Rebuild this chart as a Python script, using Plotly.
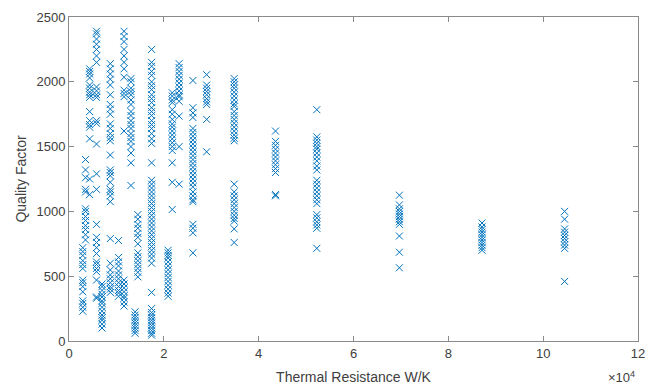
import plotly.graph_objects as go

# Thermal resistance levels (W/K)
resistance_levels = [2903, 3484, 4355, 5807, 6968, 8710, 10452, 11613, 13065, 13936,
                     14517, 17420, 20904, 21775, 23227, 26130, 29033, 34840, 43550,
                     52260, 69680, 87100, 104520]

# Quality factor values observed at each level
q_2903 = [230, 260, 290, 310, 380, 420, 450, 470, 560, 590, 620, 660, 690, 720]
q_3484 = [780, 820, 860, 890, 930, 960, 1000, 1020, 1150, 1170, 1260, 1320, 1400]
q_4355 = [1130, 1250, 1560, 1650, 1670, 1700, 1770, 1880, 1900, 1920, 1950, 1975, 2030, 2060, 2080, 2100]
q_5807 = [2390, 2370, 2330, 2290, 2250, 2200, 2150, 1960, 1930, 1900, 1880, 1700, 1680, 1520,
          1290, 1170, 900, 800, 760, 720, 675, 610, 590, 560, 535, 470, 340, 330]
q_6968 = [100, 130, 160, 180, 200, 230, 260, 290, 310, 340, 360, 390, 420, 440]
q_8710 = [2140, 2100, 2060, 2020, 1975, 1900, 1825, 1790, 1750, 1675, 1640, 1600, 1570, 1545,
          1435, 1320, 1300, 1275, 1225, 1170, 1150, 1120, 1075, 790, 600, 548, 510, 480, 450,
          420, 400, 375]
q_10452 = [775, 645, 610, 580, 540, 510, 480, 450, 420, 390, 370, 345]
q_11613 = [2390, 2350, 2310, 2250, 2200, 2150, 2100, 2035, 1935, 1910, 1885, 1620,
           470, 440, 410, 380, 350, 330, 300, 270]
q_13065 = [2025, 2000, 1950, 1925, 1900, 1860, 1825, 1770, 1740, 1700, 1670, 1640, 1600,
           1570, 1540, 1500, 1450, 1375, 1200]
q_13936 = [225, 200, 180, 160, 140, 120, 100, 80, 60]
q_14517 = [975, 940, 900, 870, 830, 800, 750, 680, 650, 620, 590, 560, 530, 495]
q_17420 = [2250, 2150, 2120, 2080, 2050, 2000, 1970, 1940, 1900, 1870, 1840, 1800, 1770,
           1740, 1700, 1670, 1640, 1600, 1560, 1525, 1375, 1240, 1210, 1180, 1150, 1120,
           1090, 1060, 1030, 1000, 970, 940, 910, 880, 850, 820, 790, 760, 730, 700, 670,
           640, 600, 375, 250, 220, 200, 180, 160, 140, 120, 100, 80, 60, 45]
q_20904 = [700, 680, 660, 640, 610, 580, 550, 520, 490, 460, 430, 400, 370, 345]
q_21775 = [1915, 1890, 1860, 1840, 1785, 1750, 1710, 1675, 1650, 1620, 1590, 1560, 1530,
           1500, 1470, 1375, 1225, 1015]
q_23227 = [2140, 2110, 2080, 2050, 2020, 1990, 1960, 1930, 1900, 1885, 1850, 1735, 1500, 1210]
q_26130 = [2010, 1800, 1760, 1725, 1640, 1610, 1580, 1550, 1520, 1490, 1460, 1430, 1400,
           1370, 1340, 1310, 1280, 1250, 1220, 1190, 1150, 1120, 1090, 1075, 900, 870, 835, 680]
q_29033 = [2055, 1975, 1950, 1925, 1900, 1870, 1845, 1825, 1710, 1460]
q_34840 = [2025, 2000, 1975, 1950, 1920, 1890, 1860, 1830, 1810, 1770, 1740, 1710, 1680,
           1650, 1620, 1590, 1565, 1545, 1210, 1150, 1120, 1090, 1060, 1030, 1000, 970,
           945, 925, 865, 760]
q_43550 = [1620, 1540, 1510, 1480, 1450, 1420, 1390, 1360, 1330, 1300, 1130, 1120]
q_52260 = [1785, 1575, 1550, 1525, 1500, 1480, 1450, 1420, 1390, 1350, 1320, 1240, 1210,
           1180, 1150, 1120, 1090, 1060, 975, 950, 920, 895, 870, 715]
q_69680 = [1125, 1050, 1020, 1000, 980, 960, 940, 920, 900, 810, 685, 565]
q_87100 = [910, 880, 860, 840, 820, 800, 780, 760, 740, 720, 700]
q_104520 = [1000, 940, 865, 840, 815, 790, 765, 740, 715, 460]

quality_by_level = [q_2903, q_3484, q_4355, q_5807, q_6968, q_8710, q_10452, q_11613,
                    q_13065, q_13936, q_14517, q_17420, q_20904, q_21775, q_23227, q_26130,
                    q_29033, q_34840, q_43550, q_52260, q_69680, q_87100, q_104520]

x_tick_vals = [0, 20000, 40000, 60000, 80000, 100000, 120000]
x_tick_text = ["0", "2", "4", "6", "8", "10", "12"]
y_tick_vals = [0, 500, 1000, 1500, 2000, 2500]

xs, ys = [], []
for level, qs in zip(resistance_levels, quality_by_level):
    xs.extend([level] * len(qs))
    ys.extend(qs)

fig = go.Figure(go.Scatter(
    x=xs, y=ys, mode="markers",
    marker=dict(symbol="x-thin", size=7, color="#0072BD",
                line=dict(color="#0072BD", width=1)),
    showlegend=False,
))

font = "Liberation Sans, Arial, sans-serif"
axis_common = dict(
    showline=True, linecolor="#8a8a8a", linewidth=1, mirror="ticks",
    ticks="inside", ticklen=5, tickcolor="#8a8a8a", showgrid=False, zeroline=False,
    tickfont=dict(family=font, size=13, color="#404040"),
)

fig.update_layout(
    width=659, height=392,
    margin=dict(l=69, r=21, t=10, b=49),
    paper_bgcolor="white", plot_bgcolor="white",
    xaxis=dict(range=[0, 120000], tickvals=x_tick_vals, ticktext=x_tick_text,
               title=dict(text="Thermal Resistance W/K", standoff=12,
                          font=dict(family=font, size=14, color="#404040")),
               **axis_common),
    yaxis=dict(range=[0, 2500], tickvals=y_tick_vals,
               title=dict(text="Quality Factor", standoff=6,
                          font=dict(family=font, size=14, color="#404040")),
               **axis_common),
    annotations=[dict(text="×10<sup>4</sup>", xref="paper", yref="paper",
                      x=0.998, y=-0.112, xanchor="right", yanchor="middle", showarrow=False,
                      font=dict(family=font, size=13, color="#404040"))],
)

fig.write_html("out.html")
